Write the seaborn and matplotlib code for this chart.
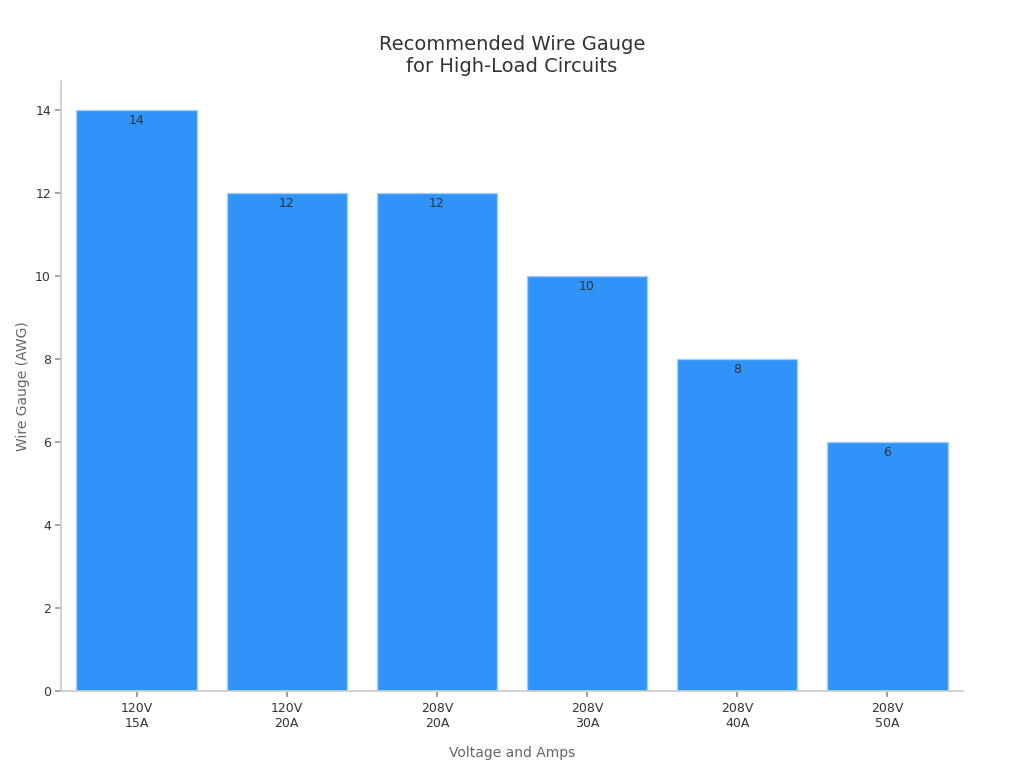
import matplotlib
matplotlib.use("Agg")
import matplotlib.pyplot as plt
import seaborn as sns
import pandas as pd

categories = ["120V\n15A", "120V\n20A", "208V\n20A", "208V\n30A", "208V\n40A", "208V\n50A"]
values = [14, 12, 12, 10, 8, 6]

sns.set_theme(style="white")
plt.rcParams['font.family'] = ['DejaVu Sans']
df = pd.DataFrame({"cat": categories, "val": values})
fig, ax = plt.subplots(figsize=(10.24, 7.68), dpi=100)
sns.barplot(data=df, x="cat", y="val", color="#2f93f7", saturation=1, width=0.8,
            edgecolor="#a8cdf5", linewidth=1, ax=ax)
for i, v in enumerate(values):
    ax.text(i, v - 0.1, str(v), ha="center", va="top", fontsize=9, color="#333333")
ax.set_title("Recommended Wire Gauge\nfor High-Load Circuits", fontsize=14, color="#333333")
ax.set_xlabel("Voltage and Amps", fontsize=10, color="#666666", labelpad=12)
ax.set_ylabel("Wire Gauge (AWG)", fontsize=10, color="#666666")
ax.set_ylim(0, 14.7)
ax.set_yticks(range(0, 15, 2))
ax.tick_params(axis="both", labelsize=9, colors="#333333", left=True, bottom=True, length=4)
ax.tick_params(axis="both", color="#999999")
for s in ["top", "right"]:
    ax.spines[s].set_visible(False)
for s in ["left", "bottom"]:
    ax.spines[s].set_color("#cccccc")
ax.set_xlim(-0.5, 5.5)
plt.subplots_adjust(left=0.06, right=0.94, top=0.895, bottom=0.1)
fig.savefig("out.png")
